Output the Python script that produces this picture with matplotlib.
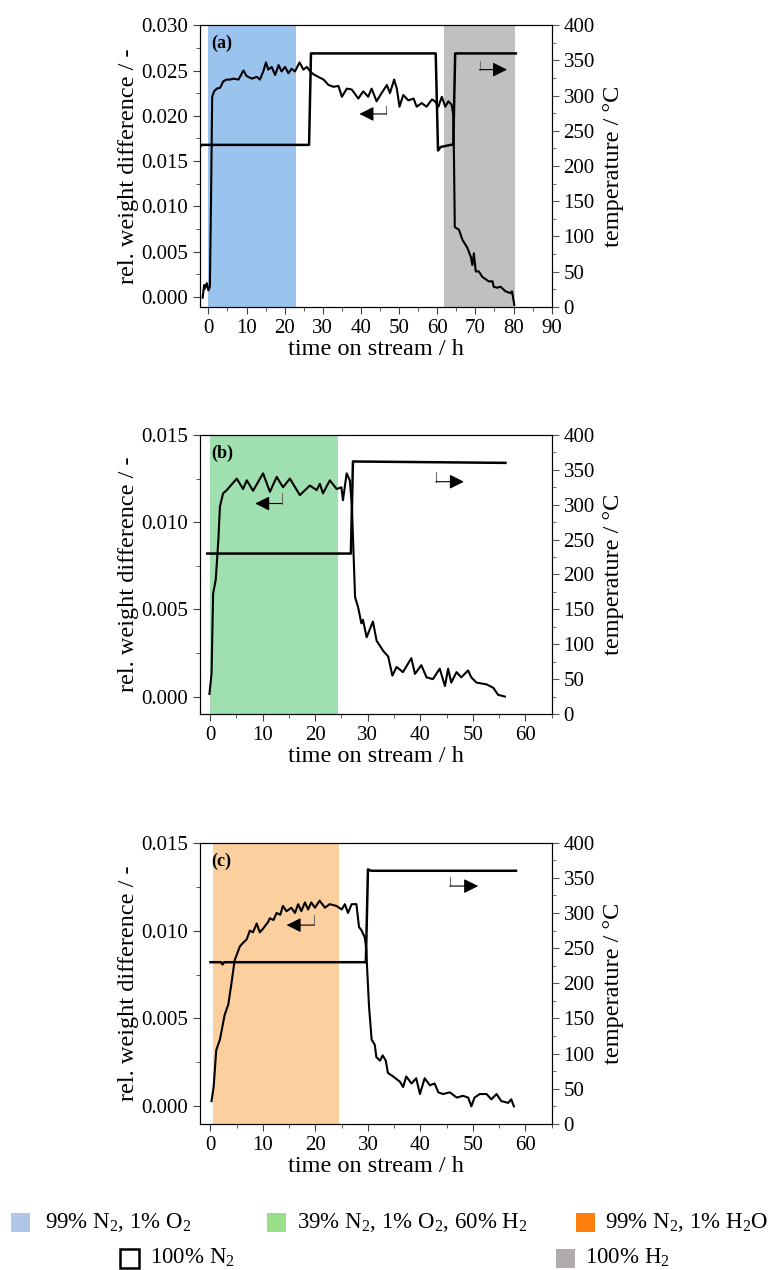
import matplotlib
import matplotlib.pyplot as plt
from matplotlib.patches import Rectangle
from matplotlib.ticker import MultipleLocator, FormatStrFormatter

matplotlib.rcParams['font.family'] = ['Liberation Serif', 'DejaVu Serif']
matplotlib.rcParams['mathtext.fontset'] = 'custom'
matplotlib.rcParams['mathtext.rm'] = 'Liberation Serif'
matplotlib.rcParams['mathtext.it'] = 'Liberation Serif:italic'

# ── data: panel (a) ──
a_w_t = [-1.5, -1.1, -0.9, -0.4, 0.0, 0.4, 0.7, 1.0, 1.5, 2.2, 3.1, 3.9, 4.8, 5.7, 6.6, 7.9,
         9.2, 10.0, 11.4, 12.7, 13.5, 14.4, 15.1, 15.7, 16.6, 17.5, 18.4, 19.2, 20.1, 21.0,
         21.8, 22.7, 23.9, 24.9, 25.8, 26.7, 27.5, 28.8, 30.2, 31.5, 32.8, 34.1, 35.0, 36.3,
         37.6, 39.3, 40.6, 41.9, 42.8, 44.1, 45.4, 46.8, 47.6, 48.7, 49.4, 50.1, 51.1, 52.4,
         53.8, 54.6, 55.9, 57.2, 58.6, 59.4, 60.3, 61.2, 62.1, 62.9, 63.8, 64.2, 64.4, 64.6,
         65.7, 66.6, 67.9, 68.8, 69.2, 69.6, 70.1, 70.9, 71.8, 73.5, 74.5, 74.8, 75.7, 76.6,
         77.9, 79.2, 79.6, 80.2]
a_w_v = [-0.0001, 0.0013, 0.0009, 0.0015, 0.0007, 0.0011, 0.0107, 0.0221, 0.0227, 0.0230,
         0.0231, 0.0238, 0.0240, 0.0240, 0.0241, 0.0240, 0.0250, 0.0244, 0.0241, 0.0243,
         0.0240, 0.0249, 0.0259, 0.0251, 0.0254, 0.0245, 0.0256, 0.0249, 0.0254, 0.0247,
         0.0252, 0.0249, 0.0259, 0.0251, 0.0254, 0.0249, 0.0246, 0.0243, 0.0240, 0.0234,
         0.0232, 0.0233, 0.0221, 0.0230, 0.0229, 0.0219, 0.0227, 0.0221, 0.0230, 0.0216,
         0.0225, 0.0234, 0.0225, 0.0240, 0.0230, 0.0210, 0.0223, 0.0217, 0.0219, 0.0210,
         0.0214, 0.0210, 0.0218, 0.0216, 0.0210, 0.0221, 0.0210, 0.0216, 0.0212, 0.0201,
         0.0150, 0.0077, 0.0074, 0.0063, 0.0054, 0.0044, 0.0035, 0.0048, 0.0028, 0.0028,
         0.0022, 0.0017, 0.0017, 0.0011, 0.0010, 0.0011, 0.0006, 0.0004, 0.0006, -0.0009]
a_T_t = [-2.2, -1.8, 26.4, 26.9, 59.6, 60.2, 60.9, 63.5, 64.2, 64.7, 80.6]
a_T_v = [227, 230, 230, 360, 360, 222, 227, 230, 230, 360, 360]

# ── data: panel (b) ──
b_w_t = [-0.1, 0.3, 0.6, 1.1, 1.6, 1.9, 2.5, 3.2, 5.1, 6.3, 7.0, 8.2, 10.1, 11.4, 12.7,
         13.9, 15.2, 17.1, 19.0, 20.3, 20.9, 21.5, 22.8, 24.1, 25.0, 25.3, 26.0, 26.6, 27.0,
         27.6, 28.2, 28.8, 29.1, 29.8, 31.0, 31.7, 33.0, 33.9, 34.7, 35.5, 36.7, 38.3, 39.0,
         40.2, 41.2, 42.4, 43.7, 44.7, 45.3, 45.9, 46.9, 47.8, 49.1, 49.7, 50.7, 52.6, 53.9,
         54.8, 56.1]
b_w_v = [0.00015, 0.0013, 0.0059, 0.0067, 0.0090, 0.0109, 0.01165, 0.01184, 0.0125, 0.0119,
         0.0124, 0.0118, 0.0128, 0.01174, 0.0126, 0.0120, 0.0125, 0.01155, 0.0121, 0.01184,
         0.0122, 0.01165, 0.0124, 0.0119, 0.0120, 0.01126, 0.0128, 0.0124, 0.0109, 0.0057,
         0.0051, 0.0042, 0.0044, 0.0034, 0.0043, 0.0032, 0.0026, 0.0023, 0.0012, 0.0017,
         0.0014, 0.0022, 0.0013, 0.0018, 0.0011, 0.0010, 0.0016, 0.0006, 0.0016, 0.0008,
         0.0014, 0.0011, 0.0015, 0.0011, 0.0008, 0.0007, 0.0005, 0.0001, 0.0]
b_T_t = [-0.5, 26.8, 27.2, 56.2]
b_T_v = [230, 230, 362, 360]

# ── data: panel (c) ──
c_w_t = [0.2, 0.6, 1.1, 1.8, 2.7, 3.4, 4.0, 4.6, 5.6, 6.2, 6.9, 7.5, 8.1, 8.8, 9.4, 10.0,
         11.0, 11.3, 12.0, 12.6, 13.3, 13.8, 14.5, 15.4, 16.1, 16.7, 17.3, 18.0, 18.6, 19.2,
         19.9, 20.8, 21.8, 22.7, 24.0, 25.0, 25.6, 26.2, 26.9, 27.8, 28.3, 28.8, 29.4, 29.7,
         29.8, 30.2, 30.7, 31.3, 31.6, 32.3, 32.8, 33.4, 33.8, 34.8, 36.1, 36.7, 37.3, 38.3,
         39.2, 39.9, 40.8, 41.8, 42.7, 43.4, 44.3, 45.6, 46.9, 48.1, 49.1, 49.7, 50.3, 51.3,
         52.6, 53.5, 54.5, 55.4, 56.7, 57.3, 57.8]
c_w_v = [0.0003, 0.0011, 0.0032, 0.0038, 0.0052, 0.0058, 0.0070, 0.0083, 0.0091, 0.0093,
         0.0095, 0.0100, 0.0099, 0.0104, 0.0099, 0.0101, 0.0105, 0.0107, 0.0106, 0.0110,
         0.0109, 0.0114, 0.0111, 0.0113, 0.0110, 0.0115, 0.0111, 0.0116, 0.0112, 0.0116,
         0.0113, 0.0117, 0.0113, 0.0115, 0.0114, 0.0112, 0.0115, 0.0110, 0.0115, 0.0115,
         0.0102, 0.0100, 0.0096, 0.0089, 0.0081, 0.0057, 0.0038, 0.0035, 0.0028, 0.0026,
         0.0029, 0.0026, 0.0019, 0.0017, 0.0014, 0.0011, 0.0017, 0.0013, 0.0016, 0.0007,
         0.0016, 0.0012, 0.0013, 0.0008, 0.0007, 0.0008, 0.0005, 0.0006, 0.0005, 0.0,
         0.0005, 0.0007, 0.0007, 0.0004, 0.0007, 0.0003, 0.0002, 0.0004, 0.0]
c_T_t = [0.0, 2.0, 2.3, 2.6, 29.6, 30.0, 30.6, 58.2]
c_T_v = [230, 230, 227, 230, 230, 362, 360, 360]

# gas phases (start, end) in h
a_o2 = (0.0, 23.1)
a_h2 = (61.8, 80.5)
b_mix = (0.0, 24.3)
c_h2o = (0.4, 24.5)

col_o2 = '#9ac3ee'
col_mix = '#9fdfb0'
col_h2o = '#fccf9f'
col_h2 = '#c0c0c0'

FS = 15      # tick labels
LFS = 17.5   # axis labels

fig = plt.figure(figsize=(7.79, 12.70), dpi=100)


def make_panel(rect, wt, wv, tt, tv, spans, letter, xlim, xmax_tick, ylim, ystep, larrow, rarrow):
    ax = fig.add_axes(rect)
    for (s, e), c in spans:
        ax.axvspan(s, e, color=c, lw=0, zorder=0)
    ax.plot(wt, wv, color='k', lw=1.5, zorder=3)
    ax.set_xlim(*xlim)
    ax.set_ylim(*ylim)
    ax.xaxis.set_minor_locator(MultipleLocator(5))
    ax.yaxis.set_major_locator(MultipleLocator(ystep))
    ax.yaxis.set_minor_locator(MultipleLocator(ystep / 2))
    ax.set_xticks(range(0, xmax_tick + 1, 10))
    ax.yaxis.set_major_formatter(FormatStrFormatter('%.3f'))
    ax.tick_params(which='both', direction='out', labelsize=FS, top=False, right=False,
                   color='0.25')
    ax.tick_params(which='major', length=5)
    ax.tick_params(which='minor', length=3)
    ax.set_xlabel('time on stream / h', fontsize=LFS, labelpad=1)
    ax.set_ylabel('rel. weight difference / -', fontsize=LFS)
    ax.yaxis.set_label_coords(-0.172, 0.5)
    ax.text(0.033, 0.965, letter, transform=ax.transAxes, fontsize=13,
            fontweight='bold', va='top', ha='left')

    # arrows: (x_corner, y_top, y_corner, x_tip)
    for (xc, yt, yc, xtip) in (larrow, rarrow):
        ax.plot([xc, xc], [yt, yc], color='0.45', lw=0.8, zorder=4)
        ax.annotate('', xy=(xtip, yc), xytext=(xc, yc),
                    arrowprops=dict(arrowstyle='-|>', color='k', lw=0.8,
                                    mutation_scale=22, shrinkA=0, shrinkB=0),
                    zorder=4)

    ax2 = ax.twinx()
    ax2.plot(tt, tv, color='k', lw=1.8)
    ax2.set_ylim(0, 400)
    ax2.yaxis.set_major_locator(MultipleLocator(50))
    ax2.yaxis.set_minor_locator(MultipleLocator(25))
    ax2.tick_params(which='both', direction='out', labelsize=FS, color='0.35')
    ax2.tick_params(which='major', length=5)
    ax2.tick_params(which='minor', length=3)
    ax2.set_ylabel('temperature / °C', fontsize=LFS)
    ax2.yaxis.set_label_coords(1.146, 0.5)
    return ax, ax2


make_panel([0.2567, 0.7585, 0.4515, 0.2216], a_w_t, a_w_v, a_T_t, a_T_v,
           [(a_o2, col_o2), (a_h2, col_h2)], '(a)', (-2.2, 90), 90,
           (-0.0011, 0.030), 0.005,
           (46.6, 0.0211, 0.0202, 39.6), (71.1, 0.0260, 0.0251, 78.3))
make_panel([0.2567, 0.4378, 0.4515, 0.2197], b_w_t, b_w_v, b_T_t, b_T_v,
           [(b_mix, col_mix)], '(b)', (-1.9, 65), 60,
           (-0.001, 0.015), 0.005,
           (13.7, 0.01165, 0.01107, 8.6), (43.0, 0.01289, 0.01232, 48.3))
make_panel([0.2567, 0.1150, 0.4515, 0.2215], c_w_t, c_w_v, c_T_t, c_T_v,
           [(c_h2o, col_h2o)], '(c)', (-2.0, 65), 60,
           (-0.001, 0.015), 0.005,
           (19.7, 0.01088, 0.01031, 14.5), (45.6, 0.01306, 0.01253, 51.0))

# ── legend at the bottom ──
leg_labels = [r'99% N$_2$, 1% O$_2$', r'39% N$_2$, 1% O$_2$, 60% H$_2$',
              r'99% N$_2$, 1% H$_2$O', r'100% N$_2$', r'100% H$_2$']
leg_colors = ['#aec7e8', '#98df8a', '#ff7f0e', 'white', '#b0acac']
# (square left, text left, row centre) in pixels
leg_pos = [(11, 45, 1222), (267, 297, 1222), (576, 605, 1222), (120, 150, 1258), (556, 585, 1258)]

W, H = 779.0, 1270.0
for lab, c, (px, tx, py) in zip(leg_labels, leg_colors, leg_pos):
    ec = 'k' if c == 'white' else c
    lw = 1.8 if c == 'white' else 0
    fig.add_artist(Rectangle((px / W, 1 - (py + 9.5) / H), 19 / W, 19 / H,
                             transform=fig.transFigure, facecolor=c,
                             edgecolor=ec, lw=lw))
    fig.text(tx / W, 1 - py / H, lab, fontsize=16.5, va='center', ha='left')

fig.savefig('out.png', dpi=100)
